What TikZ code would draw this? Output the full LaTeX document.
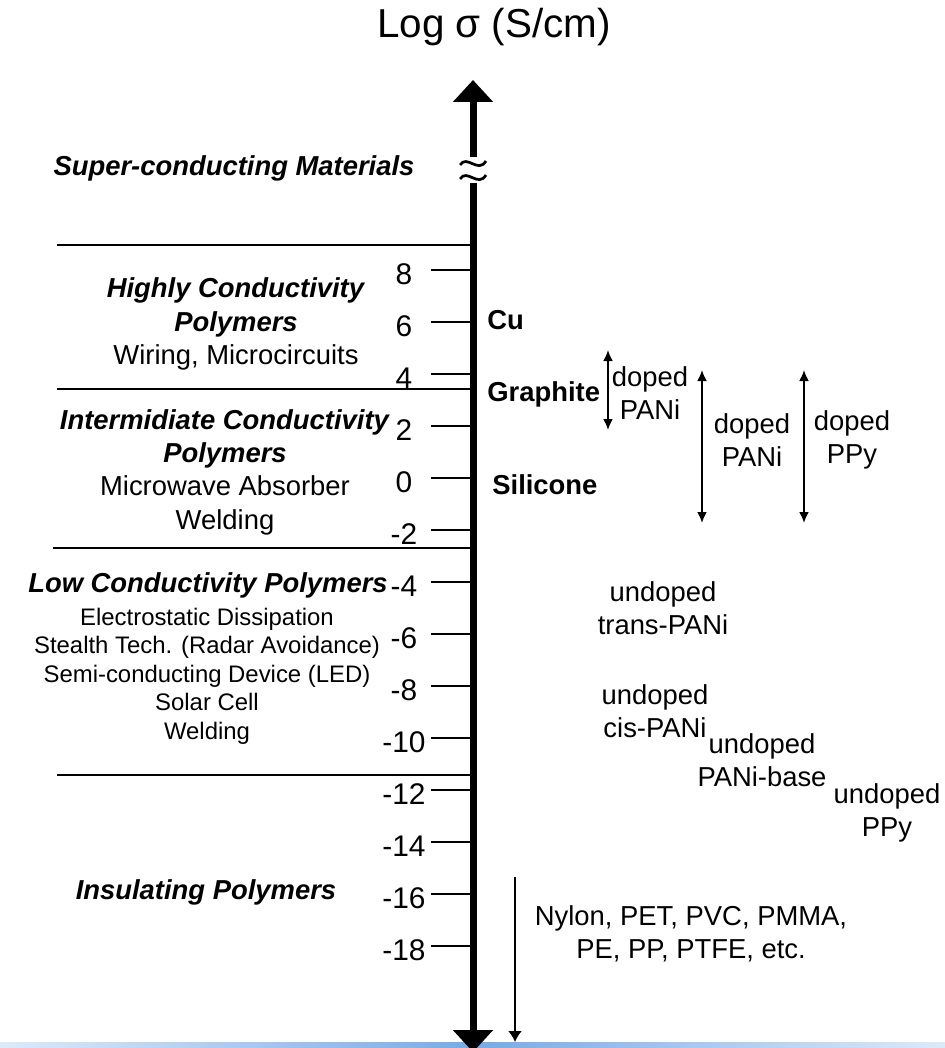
\documentclass[tikz,border=0pt]{standalone}
\usepackage{fontspec}
\setmainfont{Liberation Sans}
\usetikzlibrary{arrows.meta}
\definecolor{slideblue}{RGB}{120,170,230}
\newcommand{\grp}[1]{\textbf{\textit{#1}}}
\tikzset{
  every node/.style={inner sep=0pt},
  txt/.style={font=\fontsize{15.6}{19}\selectfont, align=center},
  grplbl/.style={font=\fontsize{15.6}{19}\selectfont\bfseries\itshape, align=center},
  applbl/.style={font=\fontsize{13.6}{16.2}\selectfont, align=center},
  matlbl/.style={font=\fontsize{15.6}{19}\selectfont\bfseries, anchor=base west},
  ticklbl/.style={font=\fontsize{17}{19}\selectfont},
  rangearrow/.style={line width=1.1pt, {Latex[length=0.22cm,width=0.2cm]}-{Latex[length=0.22cm,width=0.2cm]}},
  sepline/.style={line width=1pt},
  sigaxis/.style={line width=0.14cm, -{Triangle[length=0.44cm,width=0.78cm]}},
}
\begin{document}
\begin{tikzpicture}[x=0.02cm,y=-0.02cm]
\useasboundingbox (0,0) rectangle (945,1048);
% slide strip at the bottom
\shade[left color=slideblue!25, right color=slideblue!25, middle color=slideblue] (0,1042) rectangle (945,1048);
\node[font=\fontsize{23}{27}\selectfont] (title) at (494,27) {Log σ (S/cm)};
% axis with break
\draw[sigaxis] (473,157) -- (473,80);
\draw[sigaxis] (473,183) -- (473,1052);
\foreach \yb in {163,177}
  \draw[line width=0.055cm] (460,\yb+2) .. controls (467,\yb-9) and (478,\yb+11) .. (486,\yb-2);
\foreach \v in {8,6,...,-18}{
  \draw[line width=1pt] (431,{478-26*(\v)}) -- (473,{478-26*(\v)});
  \node[ticklbl] (t\v) at (404,{482-26*(\v)}) {\v};
}
% classes
\draw[sepline] (57,245) -- (473,245);
\draw[sepline] (57,389) -- (473,389);
\draw[sepline] (53,548) -- (473,548);
\draw[sepline] (57,775) -- (473,775);
\node[grplbl] (supc) at (234,168) {Super-conducting Materials};
\node[txt] (high) at (236,324) {\grp{Highly Conductivity}\\\grp{Polymers}\\Wiring, Microcircuits};
\node[txt] (inter) at (225,472) {\grp{Intermidiate Conductivity}\\\grp{Polymers}\\Microwave Absorber\\Welding};
\node[grplbl] (low) at (208,585) {Low Conductivity Polymers};
\node[applbl] (lowuse) at (207,676) {Electrostatic Dissipation\\Stealth Tech. (Radar Avoidance)\\Semi-conducting Device (LED)\\Solar Cell\\Welding};
\node[grplbl] (insul) at (206,892) {Insulating Polymers};
% materials
\node[matlbl] (cu) at (487,329) {Cu};
\node[matlbl] (graph) at (487,401) {Graphite};
\node[matlbl] (sil) at (492,494) {Silicone};
\draw[rangearrow] (608,350) -- (608,430);
\node[txt] (dpani1) at (650,393) {doped\\PANi};
\draw[rangearrow] (702,370) -- (702,523);
\node[txt] (dpani2) at (752,440) {doped\\PANi};
\draw[rangearrow] (804,370) -- (804,523);
\node[txt] (dppy) at (852,440) {doped\\PPy};
\node[txt] (utrans) at (663,608) {undoped\\trans-PANi};
\node[txt] (ucis) at (655,711) {undoped\\cis-PANi};
\node[txt] (ubase) at (762,760) {undoped\\PANi-base};
\node[txt] (uppy) at (887,813) {undoped\\PPy};
\draw[line width=1.1pt, -{Latex[length=0.22cm,width=0.28cm]}] (515,877) -- (515,1042);
\node[txt] (insmat) at (691,934) {Nylon, PET, PVC, PMMA,\\PE, PP, PTFE, etc.};
\end{tikzpicture}
\end{document}
